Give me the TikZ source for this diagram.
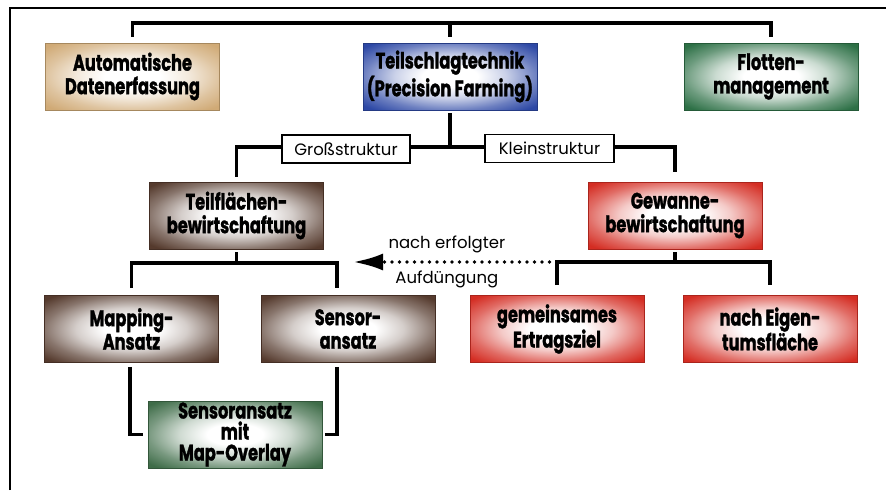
\documentclass[tikz,border=0pt]{standalone}
\usepackage{fontspec}
\setmainfont{Poppins}
\newfontfamily\boxfont{Poppins}[FakeStretch=0.72, BoldFeatures={FakeBold=1.2}]
\usetikzlibrary{arrows.meta}

\definecolor{tanedge}{RGB}{208,170,118}
\definecolor{blueedge}{RGB}{45,72,165}
\definecolor{greenedge}{RGB}{45,112,70}
\definecolor{brownedge}{RGB}{85,58,45}
\definecolor{rededge}{RGB}{212,45,35}
\definecolor{mossedge}{RGB}{62,108,72}
\colorlet{edgecol}{black}
\pgfdeclareradialshading[edgecol]{glow}{\pgfpoint{0bp}{0bp}}{color(0bp)=(white); color(8bp)=(white); color(16bp)=(edgecol!25!white); color(25bp)=(edgecol!70!white); color(33bp)=(edgecol); color(50bp)=(edgecol)}

\tikzset{
  fieldbox/.style={/utils/exec={\colorlet{edgecol}{#1}}, shading=glow, draw=#1!80!black, line width=.6pt,
    minimum width=174pt, minimum height=67pt, inner sep=0pt, align=center,
    font=\boxfont\bfseries\fontsize{22.5}{23.5}\selectfont},
  bus/.style={line width=3.8pt},
  strukbox/.style={draw, fill=white, line width=1.2pt, minimum height=28pt, inner sep=0pt,
    font=\fontsize{16.5}{18}\selectfont},
  dueng/.style={line width=3.8pt, line cap=round, dash pattern=on 0pt off 7.5pt,
    -{Latex[length=30pt,width=17pt]}},
  duenglabel/.style={font=\fontsize{16.5}{18}\selectfont, inner sep=0pt}
}

\begin{document}
\begin{tikzpicture}[x=1pt,y=-1pt]
\useasboundingbox (0,0) rectangle (886,490);
\draw[line width=2pt] (10,490) -- (10,8) -- (886,8);

\node[fieldbox=tanedge] (auto) at (132.5,76.5) {Automatische\\Datenerfassung};
\node[fieldbox=blueedge] (teil) at (450,76.5) {Teilschlagtechnik\\(Precision Farming)};
\node[fieldbox=greenedge] (flot) at (771,76.5) {Flotten-\\management};
\node[fieldbox=brownedge] (tfl) at (236.5,215.5) {Teilflächen-\\bewirtschaftung};
\node[fieldbox=rededge] (gew) at (675,215.5) {Gewanne-\\bewirtschaftung};
\node[fieldbox=brownedge] (map) at (131.5,329) {Mapping-\\Ansatz};
\node[fieldbox=brownedge] (sens) at (348,329) {Sensor-\\ansatz};
\node[fieldbox=rededge] (gem) at (557,329) {gemeinsames\\Ertragsziel};
\node[fieldbox=rededge] (eig) at (770,329) {nach Eigen-\\tumsfläche};
\node[fieldbox=mossedge,font=\boxfont\bfseries\fontsize{22.5}{21}\selectfont] (ovl) at (235,434.5) {Sensoransatz\\mit\\Map-Overlay};

\coordinate (topbus) at (450,23);
\coordinate (midbus) at (450,147);
\coordinate (tflbus) at (236.5,263);
\coordinate (gewbus) at (673,262);

\draw[bus,shorten <=6pt,shorten >=6pt] (auto.north) |- (topbus) -| (flot.north);
\draw[bus,shorten <=6pt] (teil.north) -- (teil.north |- topbus);
\draw[bus,shorten <=3pt] (teil.south) -- (midbus);
\draw[bus,shorten >=5pt] (midbus) -| (tfl.north);
\draw[bus,shorten >=10pt] (midbus) -| (gew.north);
\draw[bus,shorten <=3pt] (tfl.south) -- (tflbus);
\draw[bus,shorten <=7pt,shorten >=7pt] (map.north) |- (tflbus) -| ([xshift=-11pt]sens.north);
\draw[bus,shorten <=3pt] (gew.south) -- (gew.south |- gewbus);
\draw[bus,shorten <=10pt,shorten >=10pt] (gem.north) |- (gewbus) -| (eig.north);
\draw[bus,shorten <=4pt,shorten >=5pt] ([xshift=-1.5pt]map.south) |- (ovl.west);
\draw[bus,shorten <=4pt,shorten >=3pt] ([xshift=-11pt]sens.south) |- (ovl.east);

\coordinate (duengtip) at (353,262);
\draw[dueng] (gem.north |- gewbus) -- (duengtip)
  node[duenglabel,pos=0.54,above=7pt] {nach erfolgter}
  node[duenglabel,pos=0.54,below=7pt] {Aufdüngung};

\node[strukbox,minimum width=128pt] (gross) at (346,149) {Großstruktur};
\node[strukbox,minimum width=129pt] (klein) at (549.5,148.5) {Kleinstruktur};
\end{tikzpicture}
\end{document}
